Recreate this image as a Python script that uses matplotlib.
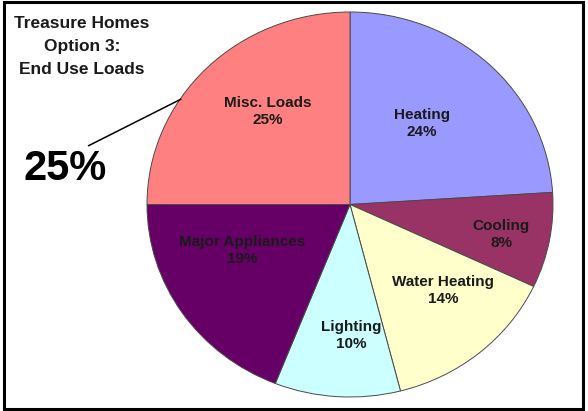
import matplotlib
matplotlib.use("Agg")
import matplotlib.pyplot as plt
import numpy as np
from matplotlib.patches import Rectangle

categories = ["Heating", "Cooling", "Water Heating", "Lighting", "Major Appliances", "Misc. Loads"]
values = [24, 8, 14, 10, 19, 25]
colors = ["#9999FF", "#993366", "#FFFFCC", "#CCFFFF", "#660066", "#FF8080"]
title_lines = ["Treasure Homes", "Option 3:", "End Use Loads"]
callout = "25%"

plt.rcParams['font.family'] = ['Liberation Sans', 'DejaVu Sans']

fig = plt.figure(figsize=(5.88, 4.11), dpi=100)
fig.patch.set_facecolor("white")
ax = fig.add_axes([147/588, (411-397)/411, 406/588, 385/411])

wedges, _ = ax.pie(values, colors=colors, startangle=90, counterclock=False,
                   wedgeprops=dict(edgecolor="#4a4a4a", linewidth=0.7))
ax.set_aspect('auto')
ax.set_xlim(-1, 1)
ax.set_ylim(-1, 1)
ax.axis('off')

label_r = [0.55, 0.76, 0.64, 0.68, 0.58, 0.63]
angle_adj = [3, -1, 6, 4, -10, -5]
for w, name, v, r, da in zip(wedges, categories, values, label_r, angle_adj):
    mid = np.deg2rad((w.theta1 + w.theta2) / 2 + da)
    ax.text(r*np.cos(mid), r*np.sin(mid), f"{name}\n{v}%", ha="center", va="center",
            fontsize=11, fontweight="bold", color="#1a1a1a", linespacing=1.25)

# callout
ang = np.deg2rad(146)
ax.annotate("", xy=(np.cos(ang)*0.99, np.sin(ang)*0.99), xycoords="data",
            xytext=(86/588, 1-147/411), textcoords="figure fraction",
            arrowprops=dict(arrowstyle="-", color="black", lw=1.1))
fig.text(65/588, 1-169/411, callout, ha="center", va="center", fontsize=30,
         fontweight="bold", color="black")

for i, line in enumerate(title_lines):
    fig.text(82/588, 1-(23+23*i)/411, line, ha="center", va="center", fontsize=12.5,
             fontweight="bold", color="#1a1a1a")

fig.patches.append(Rectangle((0.006, 0.006), 0.985, 0.988, transform=fig.transFigure,
                             fill=False, edgecolor="black", linewidth=2.2))

fig.savefig("out.png", dpi=100)
